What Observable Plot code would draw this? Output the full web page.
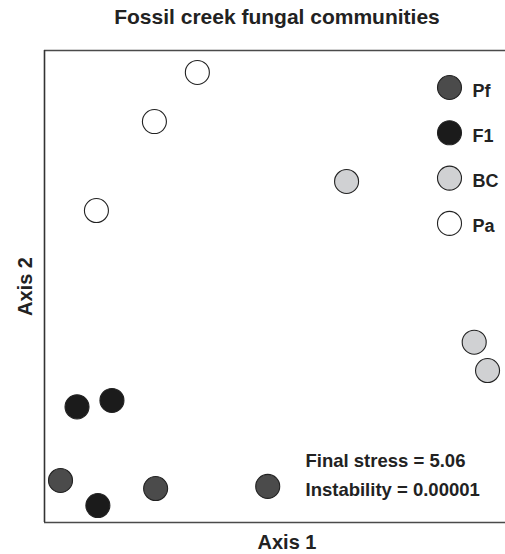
<!DOCTYPE html>
<html>
<head>
<meta charset="utf-8">
<script src="https://cdn.jsdelivr.net/npm/d3@7"></script>
<script src="https://cdn.jsdelivr.net/npm/@observablehq/plot@0.6"></script>
<style>
  html, body { margin: 0; padding: 0; background: #fff; }
  body { width: 505px; height: 554px; overflow: hidden; font-family: "Liberation Sans", Arial, Helvetica, sans-serif; }
  #title { position: relative; height: 36px; }
  #title span { position: absolute; left: 0; width: 554px; top: 6px; text-align: center;
    font-size: 21px; line-height: 21px; font-weight: bold; color: #222; white-space: nowrap; }
  svg { display: block; }
</style>
</head>
<body>
<div id="title"><span>Fossil creek fungal communities</span></div>
<div id="chart"></div>
<script>
// Groups and legend
const groups = ["Pf", "F1", "BC", "Pa"];
const groupFills = ["#4b4b4b", "#1b1b1b", "#d0d1d3", "#ffffff"];

// Site scores (NMS ordination)
const siteGroup = ["Pa", "Pa", "Pa", "BC", "BC", "BC", "F1", "F1", "F1", "Pf", "Pf", "Pf"];
const axis1 = [-0.370, -0.547, -0.786, 0.245, 0.771, 0.826, -0.866, -0.722, -0.780, -0.934, -0.542, -0.080];
const axis2 = [0.907, 0.699, 0.322, 0.445, -0.236, -0.356, -0.510, -0.483, -0.928, -0.822, -0.856, -0.847];

// Axis labels / annotations
const xLabel = "Axis 1";
const yLabel = "Axis 2";
const statLines = ["Final stress = 5.06", "Instability = 0.00001"];

const xDomain = [-1, 0.9];
const yDomain = [-1, 1];

const sites = siteGroup.map((g, i) => ({group: g, x: axis1[i], y: axis2[i]}));

const font = "Liberation Sans, Arial, Helvetica, sans-serif";
const ink = "#222";

const legendMarks = groups.flatMap((g, i) => [
  Plot.dot([g], {frameAnchor: "top-left", dx: 405, dy: 37 + i * 45.3, r: 12,
    fill: d => d, stroke: "#222", strokeWidth: 1.1}),
  Plot.text([g], {frameAnchor: "top-left", dx: 428, dy: 37 + i * 45.3 + 9, text: d => d,
    textAnchor: "start", lineAnchor: "bottom", fontSize: 18, fontWeight: "bold", fill: ink})
]);

const chart = Plot.plot({
  width: 505,
  height: 518,
  marginLeft: 44,
  marginRight: 0,
  marginTop: 14,
  marginBottom: 32,
  style: {fontFamily: font, background: "#fff"},
  x: {domain: xDomain, axis: null},
  y: {domain: yDomain, axis: null},
  color: {domain: groups, range: groupFills},
  marks: [
    Plot.ruleY(yDomain, {stroke: "#4a4a4a", strokeWidth: 1.6}),
    Plot.ruleX([xDomain[0]], {stroke: "#333", strokeWidth: 1.6}),
    Plot.dot(sites, {x: "x", y: "y", r: 12, fill: "group", stroke: "#222", strokeWidth: 1.1}),
    ...legendMarks,
    Plot.text([statLines[0]], {frameAnchor: "bottom-left", dx: 261, dy: -56, text: d => d,
      textAnchor: "start", lineAnchor: "bottom", fontSize: 18.5, fontWeight: "bold", fill: ink}),
    Plot.text([statLines[1]], {frameAnchor: "bottom-left", dx: 261, dy: -27, text: d => d,
      textAnchor: "start", lineAnchor: "bottom", fontSize: 18.5, fontWeight: "bold", fill: ink}),
    Plot.text([xLabel], {frameAnchor: "bottom", dx: 12, dy: 26, text: d => d,
      textAnchor: "middle", lineAnchor: "bottom", fontSize: 20, fontWeight: "bold", fill: ink}),
    Plot.text([yLabel], {frameAnchor: "left", dx: -13, text: d => d, rotate: -90,
      textAnchor: "middle", lineAnchor: "bottom", fontSize: 20, fontWeight: "bold", fill: ink})
  ]
});
document.getElementById("chart").appendChild(chart);
</script>
</body>
</html>
